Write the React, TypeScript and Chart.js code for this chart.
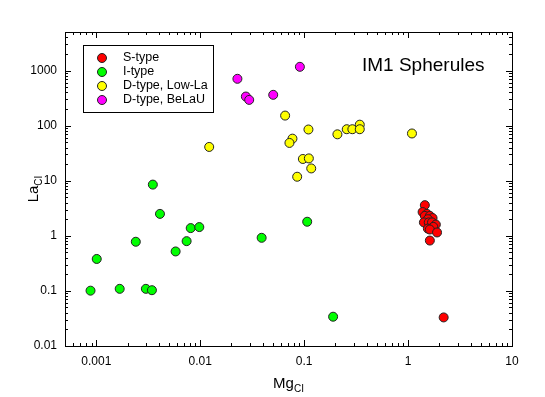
import React, { useEffect, useRef } from 'react';
import { Chart, registerables } from 'chart.js';
Chart.register(...registerables);

const seriesNames = ['S-type', 'I-type', 'D-type, Low-La', 'D-type, BeLaU'];
const seriesColors = ['#ff0000', '#00ff00', '#ffff00', '#ff00ff'];

const sTypeMg = [1.45, 1.38, 1.52, 1.45, 1.62, 1.72, 1.55, 1.42, 1.58, 1.70, 1.85, 1.75, 1.55, 1.62, 1.90, 1.62, 2.2];
const sTypeLa = [3.6, 2.7, 2.5, 2.3, 2.3, 2.1, 2.0, 1.75, 1.75, 1.75, 1.6, 1.45, 1.35, 1.3, 1.15, 0.82, 0.033];

const iTypeMg = [0.0035, 0.0041, 0.0024, 0.00101, 0.0081, 0.0098, 0.0074, 0.0058, 0.00088, 0.00168, 0.0030, 0.00343, 0.039, 0.107, 0.19];
const iTypeLa = [8.5, 2.5, 0.78, 0.38, 1.38, 1.44, 0.80, 0.52, 0.101, 0.109, 0.109, 0.103, 0.92, 1.8, 0.034];

const dLowMg = [0.0656, 0.11, 0.0772, 0.0722, 0.0972, 0.111, 0.117, 0.0857, 0.0122, 0.209, 0.257, 0.291, 0.343, 0.343, 1.09];
const dLowLa = [152, 85, 58, 48.5, 24.8, 25.4, 16.7, 11.8, 41, 69.5, 86, 86, 104, 86, 72];

const dBelMg = [0.091, 0.0228, 0.0275, 0.0296, 0.0504];
const dBelLa = [1167, 707, 337, 293, 362];

const xTicks = [0.001, 0.01, 0.1, 1, 10];
const yTicks = [0.01, 0.1, 1, 10, 100, 1000];
const xMin = 0.0005, xMax = 10, yMin = 0.01, yMax = 5000;

const chartTitle = 'IM1 Spherules';
const xTitle = ['Mg', 'CI'];
const yTitle = ['La', 'CI'];

const FONT = '"Liberation Sans", Arial, sans-serif';

function pts(xs: number[], ys: number[]) {
  return xs.map((x, i) => ({ x, y: ys[i] }));
}

const framePlugin = {
  id: 'frameTicks',
  afterDraw(chart: any) {
    const ctx = chart.ctx;
    const { left, right, top, bottom } = chart.chartArea;
    const xs = chart.scales.x;
    const ys = chart.scales.y;
    ctx.save();
    ctx.strokeStyle = '#000';
    ctx.lineWidth = 1;
    ctx.strokeRect(Math.round(left) + 0.5, Math.round(top) + 0.5, Math.round(right - left), Math.round(bottom - top));
    ctx.beginPath();
    for (let d = -4; d <= 4; d++) {
      for (let m = 1; m <= 9; m++) {
        const v = m * Math.pow(10, d);
        const len = m === 1 ? 6 : 3;
        if (v >= xMin * 0.999 && v <= xMax * 1.001) {
          const px = Math.round(xs.getPixelForValue(v)) + 0.5;
          ctx.moveTo(px, bottom); ctx.lineTo(px, bottom - len);
          ctx.moveTo(px, top); ctx.lineTo(px, top + len);
        }
        if (v >= yMin * 0.999 && v <= yMax * 1.001) {
          const py = Math.round(ys.getPixelForValue(v)) + 0.5;
          ctx.moveTo(left, py); ctx.lineTo(left + len, py);
          ctx.moveTo(right, py); ctx.lineTo(right - len, py);
        }
      }
    }
    ctx.stroke();

    // title
    ctx.fillStyle = '#000';
    ctx.font = `19px ${FONT}`;
    ctx.textAlign = 'left';
    ctx.textBaseline = 'middle';
    ctx.fillText(chartTitle, 362, 66);

    // x axis title with subscript
    const cx = (left + right) / 2;
    ctx.font = `15px ${FONT}`;
    const w1 = ctx.measureText(xTitle[0]).width;
    ctx.font = `10px ${FONT}`;
    const w2 = ctx.measureText(xTitle[1]).width;
    const sx = cx - (w1 + w2) / 2;
    ctx.textBaseline = 'alphabetic';
    ctx.font = `15px ${FONT}`;
    ctx.fillText(xTitle[0], sx, 388);
    ctx.font = `10px ${FONT}`;
    ctx.fillText(xTitle[1], sx + w1, 392);

    // y axis title rotated
    ctx.save();
    ctx.translate(38, (top + bottom) / 2);
    ctx.rotate(-Math.PI / 2);
    ctx.font = `15px ${FONT}`;
    const v1 = ctx.measureText(yTitle[0]).width;
    ctx.font = `10px ${FONT}`;
    const v2 = ctx.measureText(yTitle[1]).width;
    const sy = -(v1 + v2) / 2;
    ctx.font = `15px ${FONT}`;
    ctx.fillText(yTitle[0], sy, 0);
    ctx.font = `10px ${FONT}`;
    ctx.fillText(yTitle[1], sy + v1, 4);
    ctx.restore();

    // legend
    const lx = 83, ly = 45, lw = 130, lh = 67;
    ctx.fillStyle = '#fff';
    ctx.fillRect(lx, ly, lw, lh);
    ctx.strokeStyle = '#000';
    ctx.strokeRect(lx + 0.5, ly + 0.5, lw, lh);
    chart.data.datasets.forEach((ds: any, i: number) => {
      const yy = 58 + i * 14;
      ctx.beginPath();
      ctx.arc(102, yy, 4.5, 0, Math.PI * 2);
      ctx.fillStyle = ds.backgroundColor;
      ctx.fill();
      ctx.strokeStyle = '#222';
      ctx.stroke();
      ctx.fillStyle = '#000';
      ctx.font = `12.5px ${FONT}`;
      ctx.textBaseline = 'middle';
      ctx.fillText(ds.label, 123, yy);
    });
    ctx.restore();
  },
};

export default function App() {
  const ref = useRef<HTMLCanvasElement | null>(null);
  useEffect(() => {
    if (!ref.current) return;
    const datasets = [
      pts(sTypeMg, sTypeLa),
      pts(iTypeMg, iTypeLa),
      pts(dLowMg, dLowLa),
      pts(dBelMg, dBelLa),
    ].map((data, i) => ({
      label: seriesNames[i],
      data,
      backgroundColor: seriesColors[i],
      borderColor: '#222',
      borderWidth: 1,
      pointRadius: 4.5,
      pointHoverRadius: 4.5,
    }));
    const chart = new Chart(ref.current, {
      type: 'scatter',
      data: { datasets },
      options: {
        animation: false,
        responsive: false,
        events: [],
        layout: { padding: { top: 32, right: 33, left: 0, bottom: 0 } },
        plugins: { legend: { display: false }, tooltip: { enabled: false }, title: { display: false } },
        scales: {
          x: {
            type: 'logarithmic',
            min: xMin,
            max: xMax,
            afterBuildTicks: (axis: any) => { axis.ticks = xTicks.map((v) => ({ value: v })); },
            afterFit: (s: any) => { s.height = 51; },
            grid: { display: false, drawTicks: false },
            border: { display: false },
            ticks: {
              color: '#000',
              font: { family: FONT, size: 12 },
              padding: 8,
              maxRotation: 0,
              autoSkip: false,
              callback: (v: any) => String(v),
            },
          },
          y: {
            type: 'logarithmic',
            min: yMin,
            max: yMax,
            afterBuildTicks: (axis: any) => { axis.ticks = yTicks.map((v) => ({ value: v })); },
            afterFit: (s: any) => { s.width = 65; },
            grid: { display: false, drawTicks: false },
            border: { display: false },
            ticks: {
              color: '#000',
              font: { family: FONT, size: 12 },
              padding: 8,
              autoSkip: false,
              callback: (v: any) => String(v),
            },
          },
        },
      },
      plugins: [framePlugin],
    });
    return () => chart.destroy();
  }, []);
  return (
    <div style={{ position: 'fixed', left: 0, top: 0, width: 545, height: 397, background: '#fff' }}>
      <canvas ref={ref} width={545} height={397} style={{ width: 545, height: 397 }} />
    </div>
  );
}
